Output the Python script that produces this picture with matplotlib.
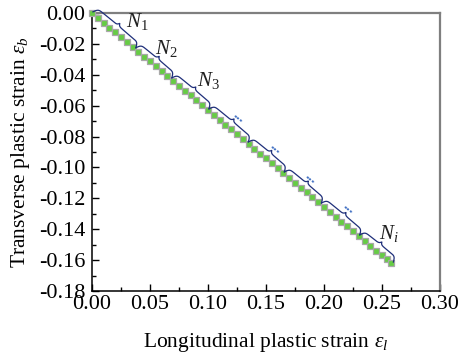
import numpy as np
import matplotlib
matplotlib.use('Agg')
import matplotlib.pyplot as plt
from matplotlib.ticker import MultipleLocator, FormatStrFormatter

plt.rcParams['font.family'] = 'Liberation Serif'
plt.rcParams['mathtext.fontset'] = 'custom'
plt.rcParams['mathtext.rm'] = 'Liberation Serif'
plt.rcParams['mathtext.it'] = 'Liberation Serif:italic'
plt.rcParams['axes.unicode_minus'] = False

# longitudinal / transverse plastic strain
eps_l = [0.000, 0.005, 0.010, 0.015, 0.020, 0.025, 0.030, 0.035, 0.040, 0.045,
         0.050, 0.055, 0.060, 0.065, 0.070, 0.075, 0.080, 0.085, 0.090, 0.095,
         0.100, 0.105, 0.110, 0.115, 0.120, 0.125, 0.130, 0.135, 0.140, 0.145,
         0.150, 0.155, 0.160, 0.165, 0.170, 0.175, 0.180, 0.185, 0.190, 0.195,
         0.200, 0.205, 0.210, 0.215, 0.220, 0.225, 0.230, 0.235, 0.240, 0.245,
         0.250, 0.254, 0.258]
eps_b = [0.0000, -0.0031, -0.0063, -0.0094, -0.0126, -0.0157, -0.0188, -0.0220, -0.0251, -0.0283,
         -0.0314, -0.0345, -0.0377, -0.0408, -0.0440, -0.0471, -0.0502, -0.0534, -0.0565, -0.0597,
         -0.0628, -0.0659, -0.0691, -0.0722, -0.0754, -0.0785, -0.0816, -0.0848, -0.0879, -0.0911,
         -0.0942, -0.0973, -0.1005, -0.1036, -0.1068, -0.1099, -0.1130, -0.1162, -0.1193, -0.1225,
         -0.1256, -0.1287, -0.1319, -0.1350, -0.1382, -0.1413, -0.1444, -0.1476, -0.1507, -0.1539,
         -0.1570, -0.1595, -0.1620]

# group boundaries (longitudinal strain) for the braces
group_edges = [0.0, 0.037, 0.068, 0.100, 0.134, 0.165, 0.197, 0.230, 0.259]
group_labels = ['$N_1$', '$N_2$', '$N_3$', '$N_i$']
label_pos = [(0.029, -0.0058), (0.054, -0.0227), (0.0905, -0.0434), (0.247, -0.1425)]
dots_pos = [(0.1267, -0.0673), (0.1586, -0.0874), (0.1888, -0.1068), (0.2216, -0.1263)]

fig = plt.figure(figsize=(4.59, 3.63), dpi=100)
ax = fig.add_axes([92 / 459, 72 / 363, 348 / 459, 278 / 363])

ax.plot(eps_l, eps_b, 's', ms=4.6, mfc='#66CC44', mec='#A8A8A8', mew=0.9,
        ls='none', clip_on=False, zorder=3)

ax.set_xlim(0, 0.30)
ax.set_ylim(-0.18, 0.0)
ax.xaxis.set_major_locator(MultipleLocator(0.05))
ax.xaxis.set_minor_locator(MultipleLocator(0.025))
ax.yaxis.set_major_locator(MultipleLocator(0.02))
ax.yaxis.set_minor_locator(MultipleLocator(0.01))
ax.xaxis.set_major_formatter(FormatStrFormatter('%.2f'))
ax.yaxis.set_major_formatter(FormatStrFormatter('%.2f'))
ax.tick_params(which='both', direction='in', top=False, right=False, labelsize=16)
ax.tick_params(which='major', length=5, width=1)
ax.tick_params(which='minor', length=3, width=1)
ax.tick_params(axis='x', pad=3)
ax.tick_params(axis='y', pad=5)

for s in ['left', 'bottom']:
    ax.spines[s].set_color('black')
    ax.spines[s].set_linewidth(1.1)
for s in ['top', 'right']:
    ax.spines[s].set_color('#7F7F7F')
    ax.spines[s].set_linewidth(1.6)

ax.set_xlabel(r'Longitudinal plastic strain $\varepsilon_l$', fontsize=15.5, labelpad=12)
ax.set_ylabel(r'Transverse plastic strain $\varepsilon_b$', fontsize=15.5, labelpad=5)

# curly braces along the data, built in pixel space
tr = ax.transData
inv = tr.inverted()
for x0, x1 in zip(group_edges[:-1], group_edges[1:]):
    y0 = np.interp(x0, eps_l, eps_b)
    y1 = np.interp(x1, eps_l, eps_b)
    p0 = tr.transform((x0, y0))
    p1 = tr.transform((x1, y1))
    L = np.hypot(*(p1 - p0))
    d = (p1 - p0) / L
    n = np.array([-d[1], d[0]])
    u = np.linspace(0, L, 300)
    m = np.minimum(u, L - u)
    v = 1.5 + 5.5 * np.tanh(m / 2.5) + 3.0 * np.exp(-np.abs(u - L / 2) / 1.2)
    pts = p0 + np.outer(u, d) + np.outer(v, n)
    dat = inv.transform(pts)
    ax.plot(dat[:, 0], dat[:, 1], color='#1F2F7A', lw=0.9, clip_on=False, zorder=4)

for lab, (x, y) in zip(group_labels, label_pos):
    ax.text(x, y, lab, fontsize=15, ha='left', va='center', color='#202020')

for x, y in dots_pos:
    ax.text(x, y, '...', fontsize=11, ha='center', va='center', color='#4472C4',
            rotation=-38, fontweight='bold')

fig.savefig('out.png', dpi=100)
